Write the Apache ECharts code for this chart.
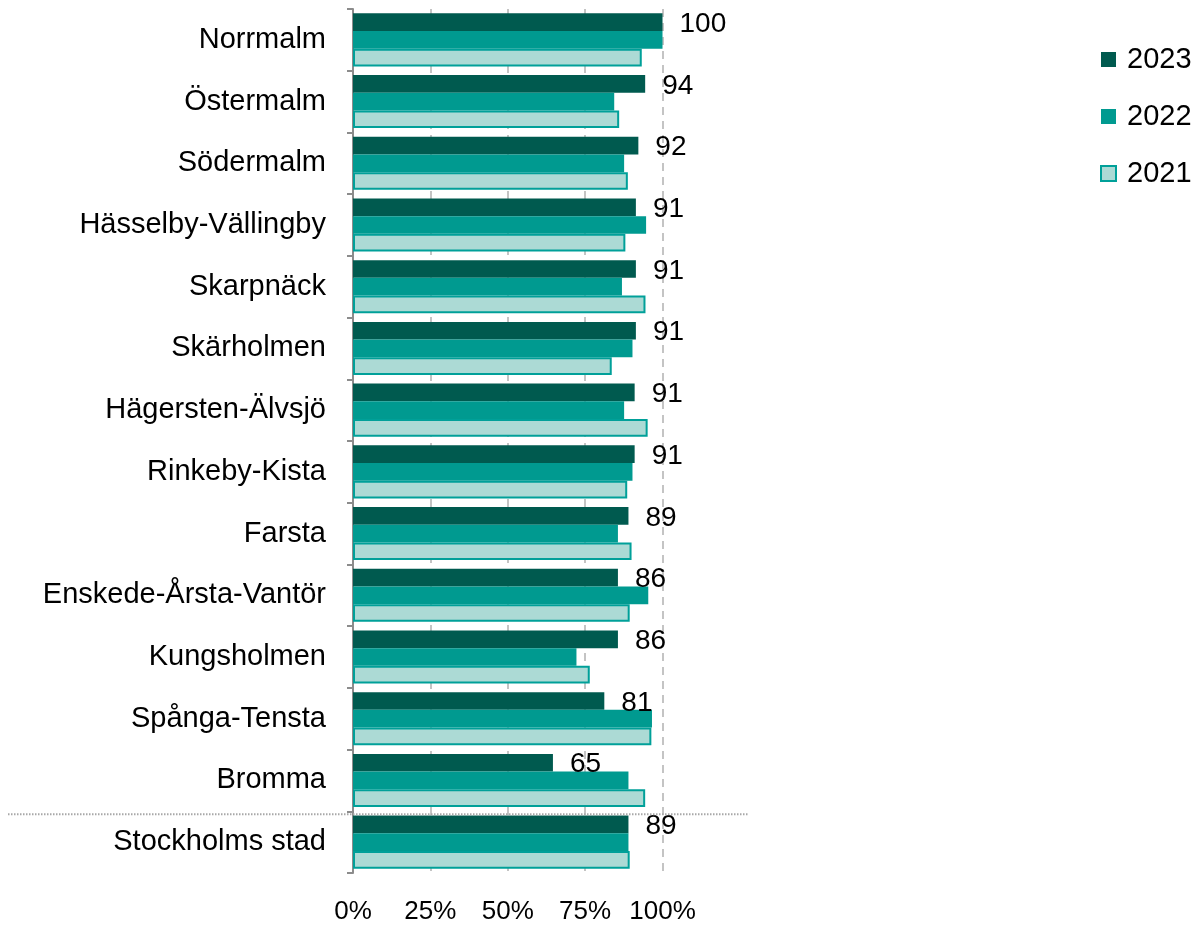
<!DOCTYPE html>
<html>
<head>
<meta charset="utf-8">
<script src="https://cdn.jsdelivr.net/npm/echarts@6/dist/echarts.min.js"></script>
<style>
html,body{margin:0;padding:0;background:#fff;}
#chart{width:1202px;height:925px;}
</style>
</head>
<body>
<div id="chart"></div>
<script>
var categories = ['Norrmalm','Östermalm','Södermalm','Hässelby-Vällingby','Skarpnäck','Skärholmen','Hägersten-Älvsjö','Rinkeby-Kista','Farsta','Enskede-Årsta-Vantör','Kungsholmen','Spånga-Tensta','Bromma','Stockholms stad'];
var seriesNames = ['2023','2022','2021'];
var values2023 = [100, 94.4, 92.2, 91.4, 91.4, 91.4, 91, 91, 89, 85.6, 85.6, 81.2, 64.6, 89];
var values2022 = [100, 84.4, 87.6, 94.7, 86.9, 90.3, 87.6, 90.3, 85.6, 95.4, 72.2, 96.6, 89, 89];
var values2021 = [93.3, 86, 88.8, 88, 94.5, 83.6, 95.2, 88.6, 90, 89.4, 76.5, 96.4, 94.4, 89.4];
var xTicks = [0, 25, 50, 75, 100];

var FONT = '"Liberation Sans", Arial, sans-serif';
var chart = echarts.init(document.getElementById('chart'));

var option = {
  animation: false,
  backgroundColor: '#ffffff',
  textStyle: { fontFamily: FONT },
  grid: { left: 353, right: 539.5, top: 9, bottom: 52, containLabel: false },
  legend: {
    orient: 'vertical',
    left: 1095,
    top: 40,
    itemWidth: 15,
    itemHeight: 15,
    itemGap: 28,
    icon: 'rect',
    textStyle: { fontSize: 29, color: '#000', fontFamily: FONT, lineHeight: 28, padding: [0, 0, 0, 6] },
    data: seriesNames
  },
  xAxis: {
    type: 'value',
    min: xTicks[0],
    max: xTicks[xTicks.length - 1],
    interval: 25,
    axisLine: { show: false },
    axisTick: { show: false },
    axisLabel: { fontSize: 26, color: '#000', fontFamily: FONT, margin: 26, formatter: function (v) { return v + '%'; } },
    splitLine: { show: true, lineStyle: { color: '#c4c4c4', width: 2, type: [8, 6] } }
  },
  yAxis: {
    type: 'category',
    inverse: true,
    data: categories,
    axisLine: { show: true, lineStyle: { color: '#8c8c8c', width: 2 } },
    axisTick: { show: true, length: 6, lineStyle: { color: '#8c8c8c', width: 2 } },
    axisLabel: { fontSize: 29, color: '#000', fontFamily: FONT, margin: 27 }
  },
  series: [
    {
      name: seriesNames[0], type: 'bar', data: values2023,
      barWidth: 17.7, barGap: '0%',
      itemStyle: { color: '#005a4f' },
      label: {
        show: true, position: 'right', distance: 17, offset: [0, 2],
        fontSize: 28, color: '#000', fontFamily: FONT,
        formatter: function (p) { return Math.round(p.value); }
      }
    },
    {
      name: seriesNames[1], type: 'bar', data: values2022,
      barWidth: 17.7, barGap: '0%',
      itemStyle: { color: '#009a90' }
    },
    {
      name: seriesNames[2], type: 'bar', data: values2021,
      barWidth: 17.7, barGap: '0%',
      itemStyle: { color: '#acdad5', borderColor: '#00a099', borderWidth: 2 }
    }
  ]
};
chart.setOption(option);

var yA = chart.convertToPixel({ yAxisIndex: 0 }, categories.length - 2);
var yB = chart.convertToPixel({ yAxisIndex: 0 }, categories.length - 1);
var sepY = (yA + yB) / 2 + 3;
chart.setOption({
  graphic: [{
    type: 'line',
    shape: { x1: 8, y1: sepY, x2: 748, y2: sepY },
    style: { stroke: '#a8a8a8', lineWidth: 2, lineDash: [1.5, 1.5] },
    z: 10
  }]
});
</script>
</body>
</html>
